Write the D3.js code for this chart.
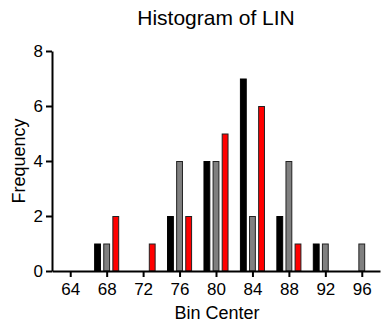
<!DOCTYPE html>
<html><head><meta charset="utf-8">
<script src="https://cdn.jsdelivr.net/npm/d3@7"></script>
<style>body{margin:0;background:#fff}svg{display:block}text{font-family:"Liberation Sans",Arial,sans-serif;fill:#000}</style>
</head><body><svg id="c" width="382" height="325"></svg>
<script>
const blackCenters = [67, 75, 79, 83, 87, 91];
const blackCounts  = [1, 2, 4, 7, 2, 1];
const grayCenters  = [68, 76, 80, 84, 88, 92, 96];
const grayCounts   = [1, 4, 4, 2, 4, 1, 1];
const redCenters   = [69, 73, 77, 81, 85, 89];
const redCounts    = [2, 1, 2, 5, 6, 1];
const xTicks = [64, 68, 72, 76, 80, 84, 88, 92, 96];
const yTicks = [0, 2, 4, 6, 8];
const title = "Histogram of LIN", xLabel = "Bin Center", yLabel = "Frequency";

const svg = d3.select("#c");
const x = d3.scaleLinear().domain([62, 98]).range([52, 380]);
const y = d3.scaleLinear().domain([0, 8]).range([271, 51]);
const bw = 0.75;

const series = [
  {c: blackCenters, v: blackCounts, fill: "#000000", stroke: "#000000"},
  {c: grayCenters, v: grayCounts, fill: "#808080", stroke: "#222222"},
  {c: redCenters, v: redCounts, fill: "#ff0000", stroke: "#222222"}
];
series.forEach(s => {
  svg.append("g").selectAll("rect").data(s.c.map((c,i)=>({c, v:s.v[i]}))).join("rect")
    .attr("x", d => x(d.c - bw/2) + 0.5)
    .attr("width", d => x(d.c + bw/2) - x(d.c - bw/2) - 1)
    .attr("y", d => y(d.v) + 0.5)
    .attr("height", d => y(0) - y(d.v) - 0.5)
    .attr("fill", s.fill).attr("stroke", s.stroke).attr("stroke-width", 1);
});

const xa = svg.append("g").attr("transform", `translate(0,${y(0)})`)
  .call(d3.axisBottom(x).tickValues(xTicks).tickSize(6).tickSizeOuter(0).tickPadding(6));
const ya = svg.append("g").attr("transform", `translate(${x(62)},0)`)
  .call(d3.axisLeft(y).tickValues(yTicks).tickSize(6).tickSizeOuter(0).tickPadding(3));
[xa, ya].forEach(a => {
  a.select(".domain").attr("stroke", "#000").attr("stroke-width", 2);
  a.selectAll(".tick line").attr("stroke", "#000").attr("stroke-width", 2);
  a.selectAll(".tick text").attr("font-size", 17).attr("font-family", '"Liberation Sans",Arial,sans-serif').attr("fill", "#000");
});

svg.append("text").attr("x", 216).attr("y", 25).attr("text-anchor", "middle").attr("font-size", 21).text(title);
svg.append("text").attr("x", 217).attr("y", 319).attr("text-anchor", "middle").attr("font-size", 18).text(xLabel);
svg.append("text").attr("transform", "translate(25,161) rotate(-90)").attr("text-anchor", "middle").attr("font-size", 18).text(yLabel);
</script></body></html>
